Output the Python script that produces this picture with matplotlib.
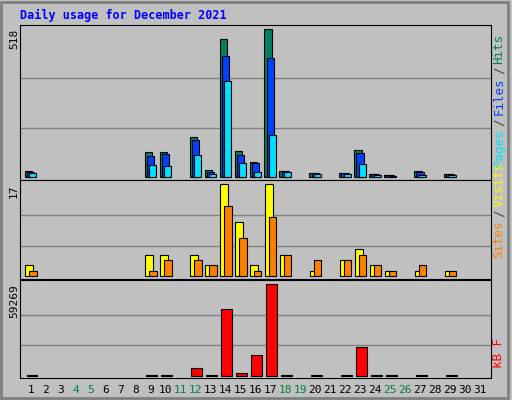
import matplotlib
matplotlib.use("Agg")
import matplotlib.pyplot as plt
from matplotlib.patches import Rectangle

days = list(range(1, 32))
weekend = [4, 5, 11, 12, 18, 19, 25, 26]
hits  = {1:19, 9:86, 10:86, 12:138, 13:22, 14:483, 15:89, 16:50, 17:518, 18:19, 20:12, 22:12, 23:93, 24:8, 25:5, 27:19, 29:8}
files = {1:15, 9:71, 10:79, 12:128, 13:15, 14:423, 15:75, 16:47, 17:416, 18:19, 20:12, 22:12, 23:82, 24:8, 25:5, 27:15, 29:8}
pages = {1:12, 9:40, 10:36, 12:75, 13:9, 14:335, 15:47, 16:15, 17:145, 18:15, 20:8, 22:8, 23:43, 24:6, 25:4, 27:6, 29:6}
visits = {1:2, 9:4, 10:4, 12:4, 13:2, 14:17, 15:10, 16:2, 17:17, 18:4, 20:1, 22:3, 23:5, 24:2, 25:1, 27:1, 29:1}
sites  = {1:1, 9:1, 10:3, 12:3, 13:2, 14:13, 15:7, 16:1, 17:11, 18:4, 20:3, 22:3, 23:4, 24:2, 25:1, 27:2, 29:1}
kbytes = {1:300, 9:300, 10:300, 12:4975, 13:300, 14:43046, 15:1500, 16:13195, 17:59269, 18:300, 20:300, 22:300, 23:18386, 24:300, 25:300, 27:300, 29:300}

BG = "#C0C0C0"
fig = plt.figure(figsize=(5.12, 4), dpi=100, facecolor=BG)
fig.patches.append(Rectangle((0.002, 0.004), 0.99, 0.992, transform=fig.transFigure,
                             fill=False, edgecolor="#808080", lw=2))
mono = "DejaVu Sans Mono"
fig.text(20/512, 1-15/400, "Daily usage for December 2021", color="#0000FF",
         fontsize=8.5, fontweight="bold", family=mono, va="center")

def mkax(top, bot, base, peak):
    ax = fig.add_axes([20/512, 1-bot/400, 471/512, (bot-top)/400])
    ax.set_facecolor(BG)
    rng = base - peak
    return ax, (bot-base)/rng, (peak-top)/rng

def style(ax, M, lo, hi):
    ax.set_xlim(0.29, 31.73)
    ax.set_ylim(-lo*M, M*(1+hi))
    for g in (M/3, 2*M/3):
        ax.axhline(g, color="#808080", lw=1, zorder=0)
    ax.set_yticks([])
    ax.set_xticks([])
    for s in ax.spines.values():
        s.set_color("black")

def bars(ax, data, off, w, color, z):
    xs = list(data.keys())
    ax.bar([x+off for x in xs], list(data.values()), width=w, align="edge",
           color=color, edgecolor="black", lw=0.8, zorder=z)

ax1, lo, hi = mkax(25, 180, 176.7, 29.3)
style(ax1, 518, lo, hi)
bars(ax1, hits, -0.39, 0.5, "#008060", 2)
bars(ax1, files, -0.25, 0.5, "#0040FF", 3)
bars(ax1, pages, -0.11, 0.5, "#00E0FF", 4)

ax2, lo, hi = mkax(180, 279, 276.3, 184.3)
style(ax2, 17, lo, hi)
bars(ax2, visits, -0.36, 0.55, "#FFFF00", 2)
bars(ax2, sites, -0.09, 0.5, "#FF8000", 3)

ax3, lo, hi = mkax(280, 378, 375.7, 284.3)
style(ax3, 59269, lo, hi)
bars(ax3, kbytes, -0.27, 0.7, "#FF0000", 2)

for d in days:
    ax3.text(d, -0.07, str(d), transform=ax3.get_xaxis_transform(), ha="center", va="top",
             fontsize=8, family=mono, color="#008040" if d in weekend else "black")

for y, t in ((29, "518"), (184, "17"), (284, "59269")):
    fig.text(14/512, 1-y/400, t, rotation=90, ha="center", va="top", fontsize=8, family=mono)

def rlabel(ybot, parts):
    y = ybot
    for t, c in parts:
        fig.text(499/512, 1-y/400, t, rotation=90, ha="center", va="bottom",
                 fontsize=9, family=mono, color=c)
        y -= len(t) * 7.5 + 3
rlabel(166, [("Pages", "#00E0FF"), ("/", "#404040"), ("Files", "#0040FF"), ("/", "#404040"), ("Hits", "#008060")])
rlabel(258, [("Sites", "#FF8000"), ("/", "#404040"), ("Visits", "#FFFF00")])
rlabel(368, [("kB F", "#FF0000")])

fig.savefig("out.png", dpi=100, facecolor=BG)
